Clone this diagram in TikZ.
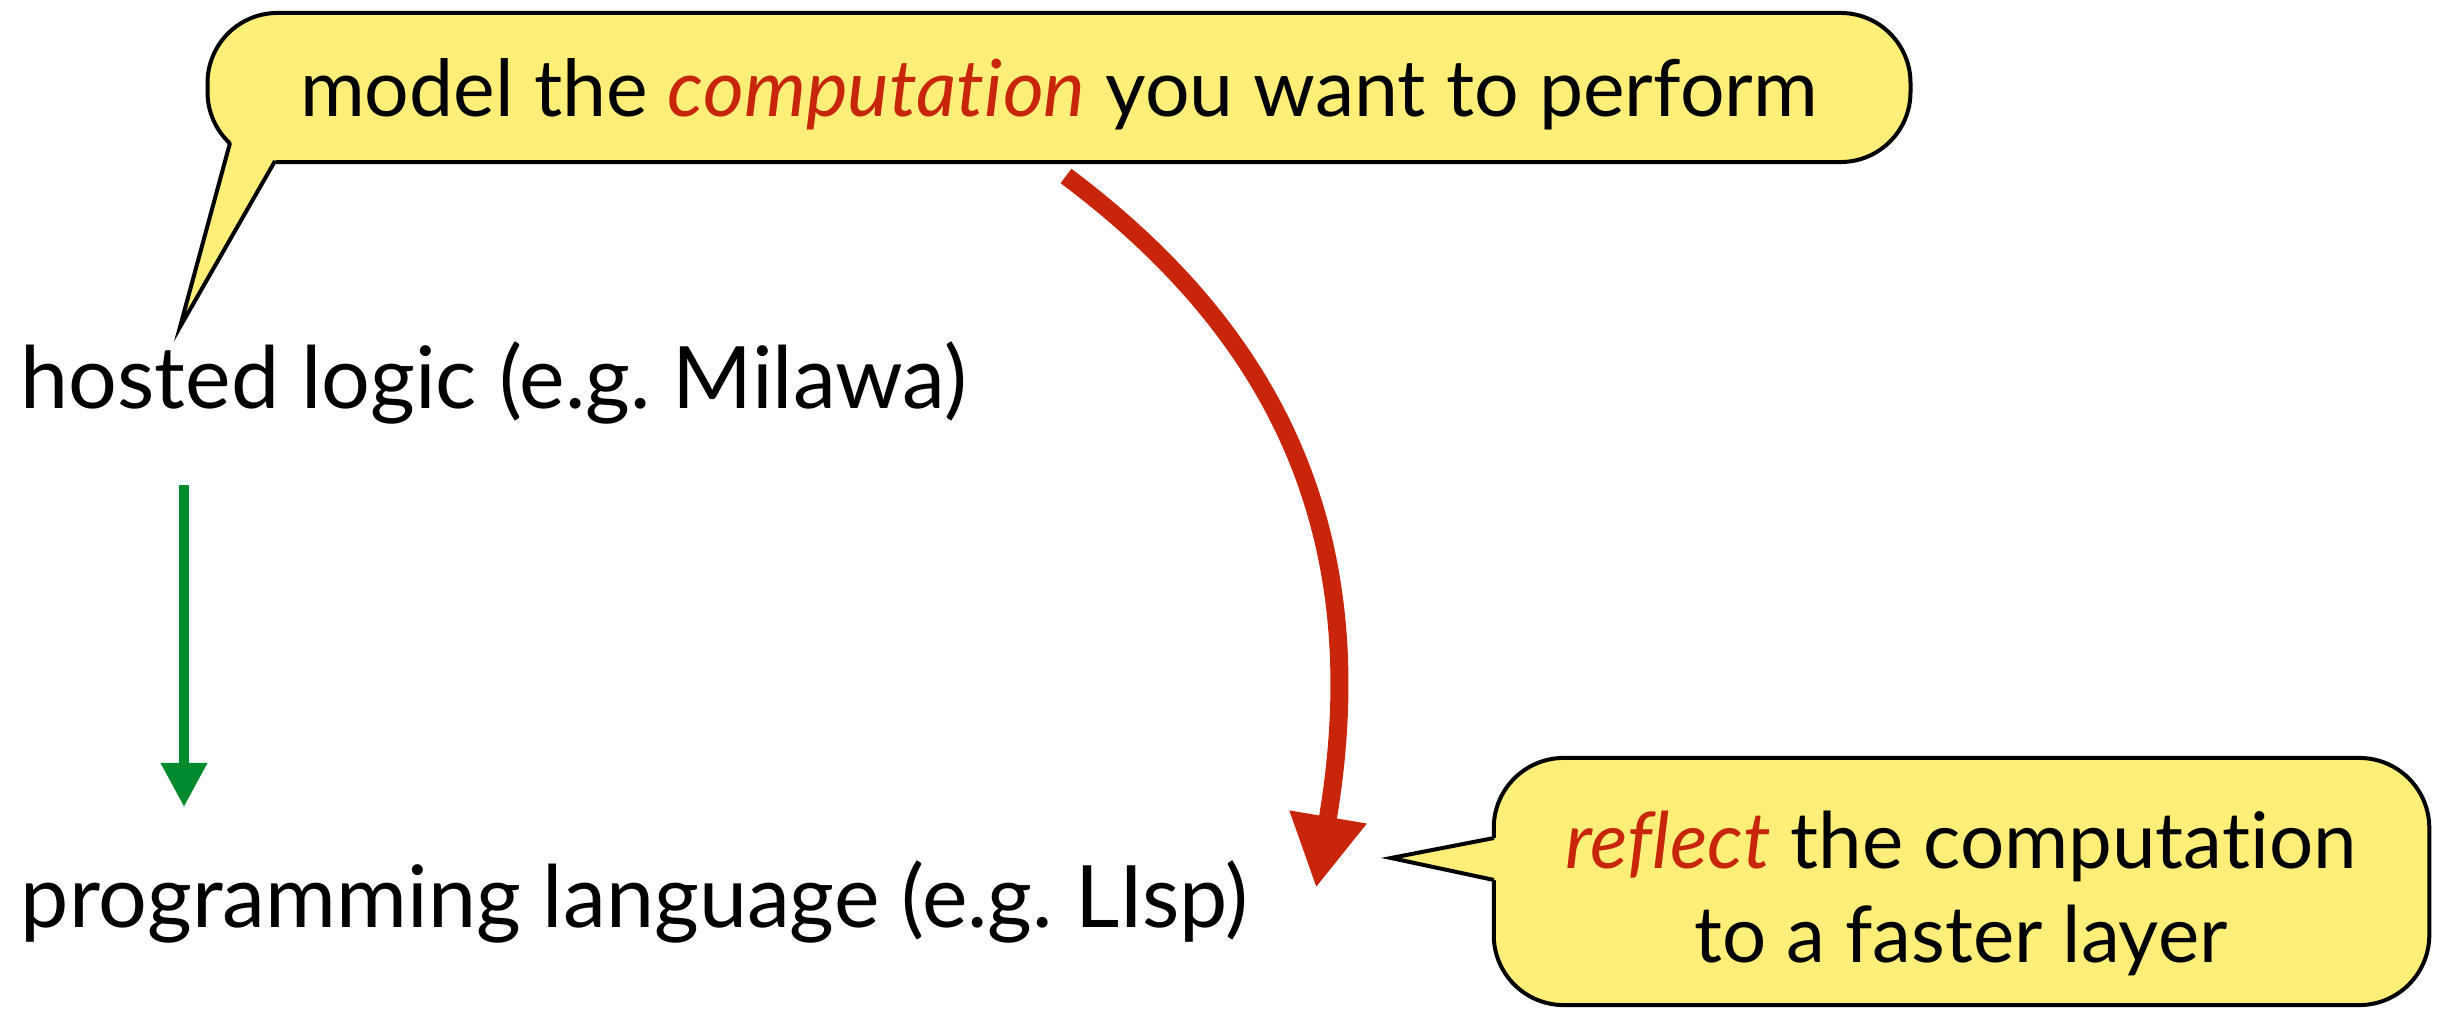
\documentclass[tikz,border=0pt]{standalone}
\usepackage{fontspec}
\setmainfont{Lato}[Ligatures=NoCommon]
\usetikzlibrary{arrows.meta}
\definecolor{bubblefill}{HTML}{FFEE77}
\definecolor{accentred}{HTML}{C8250A}
\definecolor{arrowgreen}{HTML}{008A2E}
\newcommand{\hl}[1]{\textcolor{accentred}{\itshape #1}}
\frenchspacing
\begin{document}
\begin{tikzpicture}[x=0.01cm,y=-0.01cm,
  bubble/.style={draw=black, fill=bubblefill, line width=0.04cm,
    rounded corners=0.7cm, rectangle, inner sep=0pt},
  label/.style={anchor=base west, inner sep=0pt, font=\fontsize{24.5}{30}\selectfont},
  bubbletext/.style={inner sep=0pt, align=center},
  tailline/.style={draw=black, line width=0.04cm, line join=miter}]
\useasboundingbox (0,0) rectangle (2446,1010);

% speech bubbles
\node[bubble, minimum width=17.02cm, minimum height=1.49cm] (topbubble) at (1059,87.5) {};
\node[bubble, minimum width=9.35cm, minimum height=2.47cm] (botbubble) at (1961.5,881.5) {};

% tail of the upper bubble, pointing at the hosted logic
\coordinate (toptip) at (180,327);
\coordinate (topA) at (230,143);
\coordinate (topB) at (275,161);
\fill[bubblefill] (toptip) -- (topA) -- (250,135) -- (285,150) -- (topB) -- cycle;
\draw[tailline] (topA) -- (toptip) -- (topB);

% tail of the lower bubble, pointing at the red arrow
\coordinate (bottip) at (1391,858);
\coordinate (botA) at (1494,838);
\coordinate (botB) at (1494,880);
\fill[bubblefill] (bottip) -- (botA) -- (1506,838) -- (1506,880) -- (botB) -- cycle;
\draw[tailline] (botA) -- (bottip) -- (botB);

% bubble texts (a multi-line node sits on its last baseline)
\node[bubbletext, anchor=base, font=\fontsize{22.4}{26}\selectfont] (toptext) at (1059,117)
  {model the \hl{computation} you want to perform};
\node[bubbletext, anchor=base, font=\fontsize{22.2}{26.7}\selectfont] (bottext) at (1961,962)
  {\hl{reflect} the computation\\to a faster layer};

% layer labels
\node[label] (hosted) at (20,409) {hosted logic (e.g. Milawa)};
\node[label] (lang) at (20,927) {programming language (e.g. LIsp)};

% arrows
\coordinate (greenstart) at (184,485);
\coordinate (greenend) at (184,807);
\draw[arrowgreen, line width=0.1cm, -{Triangle[width=0.44cm,length=0.44cm]}]
  (greenstart) -- (greenend);

\coordinate (redstart) at (1066,176);
\coordinate (redend) at (1316,888);
\draw[accentred, line width=0.18cm, -{Triangle[width=0.73cm,length=0.72cm]}]
  (redstart) .. controls (1266,326) and (1378,523) .. (redend);
\end{tikzpicture}
\end{document}
